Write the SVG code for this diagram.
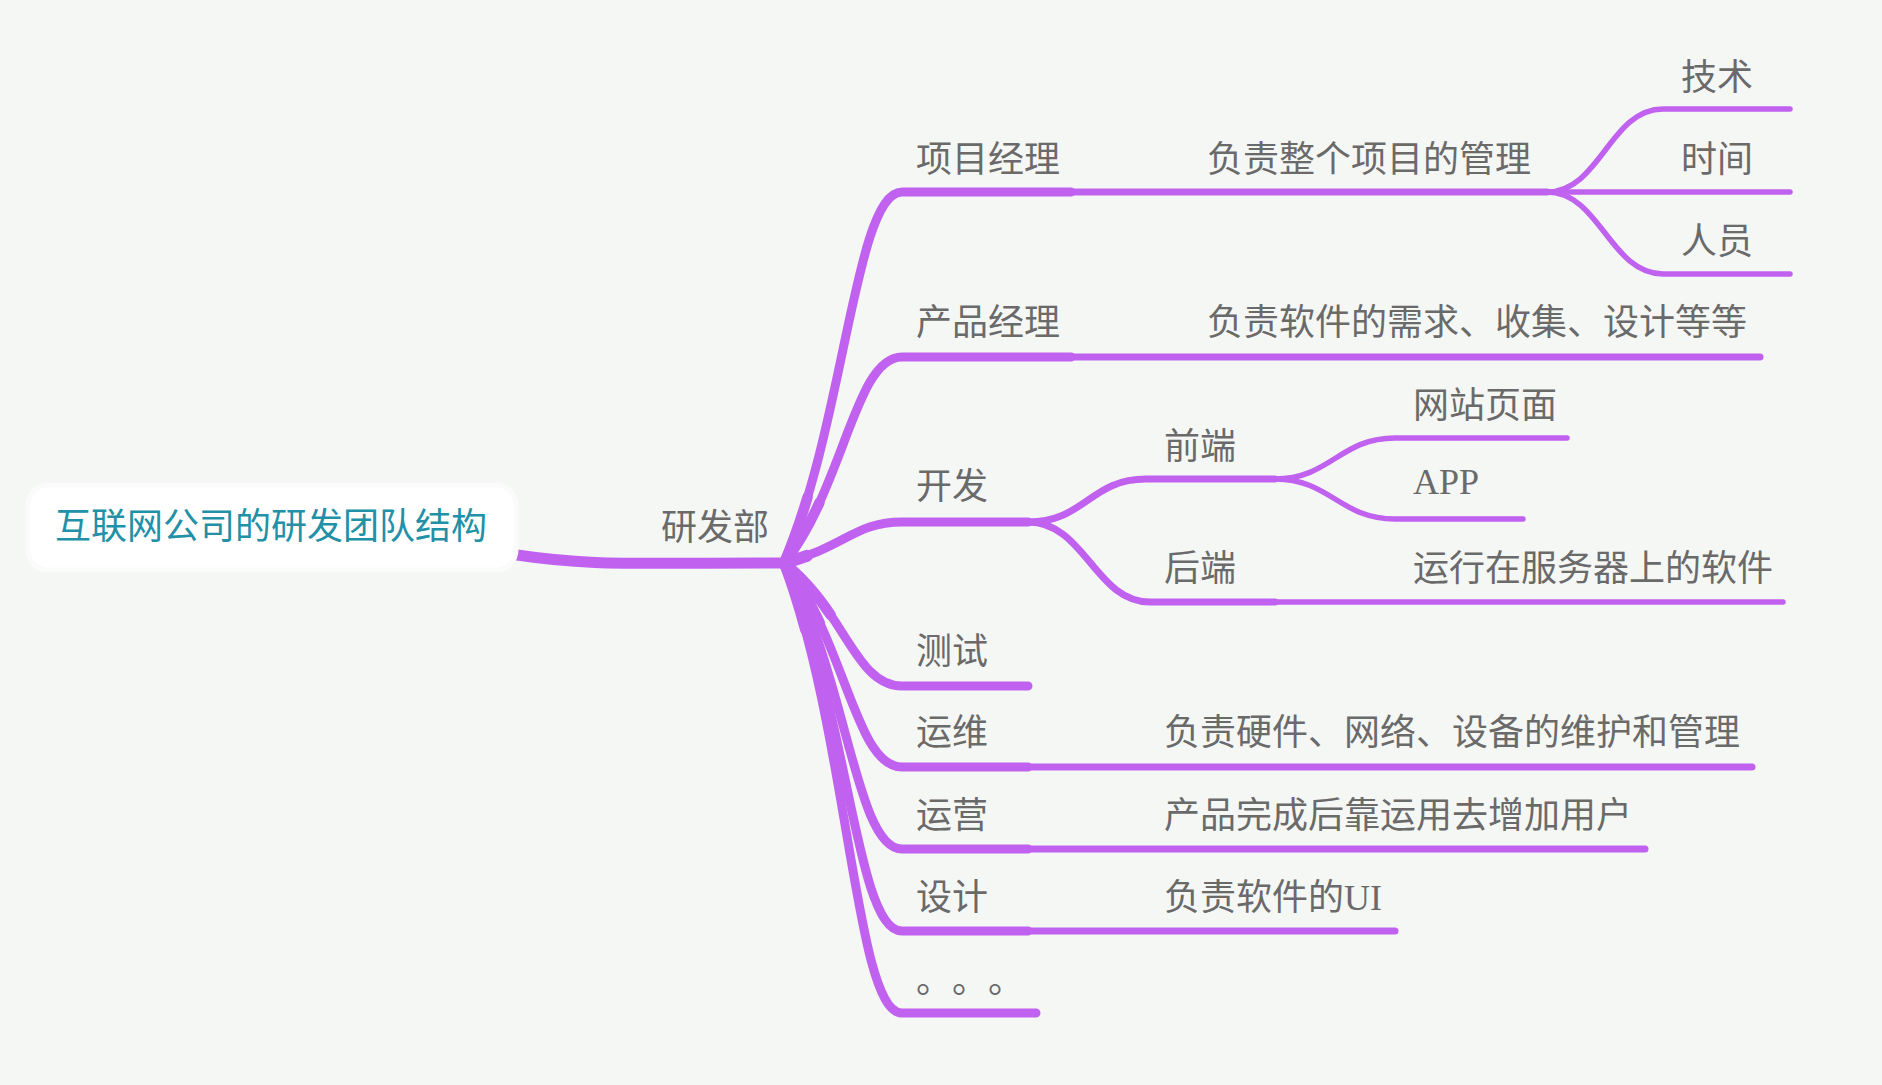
<svg xmlns="http://www.w3.org/2000/svg" width="1882" height="1085" viewBox="0 0 1882 1085">
<style>
.c{fill:none;stroke:#c062ef;stroke-linecap:round;stroke-linejoin:round}
.l1{stroke-width:9}
.l2{stroke-width:7}
.l3{stroke-width:5.5}
.t1{stroke-width:12;stroke-dasharray:24 3000}
.t2{stroke-width:10.5;stroke-dasharray:70 3000}
text{font-family:"Liberation Serif","Noto Sans CJK SC",serif;font-size:36px;fill:#6a6a6a}
.root{fill:#2290a6}
.cjk{font-family:"Noto Sans CJK SC",sans-serif}
</style>
<rect width="1882" height="1085" fill="#f5f7f5"/>
<g id="connectors">
  <path class="c" stroke-width="11" d="M510,554 C 590,566 620,563 786,563"/>
  <g id="level1">
    <path class="c l1" d="M784,563 C 845,422 855,192 902,192 H1071"/>
    <path class="c l1" d="M784,563 C 845,485 855,357 902,357 H1071"/>
    <path class="c l1" d="M784,563 C 845,547 855,522 902,522 H1028"/>
    <path class="c l1" d="M784,563 C 845,610 855,686 902,686 H1028"/>
    <path class="c l1" d="M784,563 C 846,641 855,767 902,767 H1028"/>
    <path class="c l1" d="M784,563 C 847,673 855,849 902,849 H1028"/>
    <path class="c l1" d="M784,563 C 848,704 855,931 902,931 H1028"/>
    <path class="c l1" d="M784,563 C 849,735 855,1013 902,1013 H1036"/>
    <path class="c t2" d="M784,563 C 845,422 855,192 902,192"/>
    <path class="c t2" d="M784,563 C 845,485 855,357 902,357"/>
    <path class="c t2" d="M784,563 C 845,610 855,686 902,686"/>
    <path class="c t2" d="M784,563 C 846,641 855,767 902,767"/>
    <path class="c t2" d="M784,563 C 847,673 855,849 902,849"/>
    <path class="c t2" d="M784,563 C 848,704 855,931 902,931"/>
    <path class="c t2" d="M784,563 C 849,735 855,1013 902,1013"/>
    <path class="c t1" d="M784,563 C 845,547 855,522 902,522"/>
  </g>
  <g id="level2">
    <path class="c l2" d="M1071,192 H1547"/>
    <path class="c l2" d="M1071,357 H1760"/>
    <path class="c l2" d="M1028,522 C 1085,522 1090,479 1146,479 H1275"/>
    <path class="c l2" d="M1028,522 C 1085,522 1095,602 1150,602 H1275"/>
    <path class="c l2" d="M1028,767 H1752"/>
    <path class="c l2" d="M1028,849 H1645"/>
    <path class="c l2" d="M1028,931 H1395"/>
  </g>
  <g id="level3">
    <path class="c l3" d="M1547,192 C 1600,192 1610,109 1663,109 H1790"/>
    <path class="c l3" d="M1547,192 H1790"/>
    <path class="c l3" d="M1547,192 C 1600,192 1610,274 1663,274 H1790"/>
    <path class="c l3" d="M1275,479 C 1330,479 1340,438 1395,438 H1567"/>
    <path class="c l3" d="M1275,479 C 1330,479 1340,519 1395,519 H1523"/>
    <path class="c l3" d="M1275,602 H1783"/>
  </g>
</g>
<g id="root">
  <rect x="28" y="485" width="488" height="85" rx="20" fill="#ffffff" stroke="#fafbfa" stroke-width="5"/>
  <text class="root" x="55" y="539">互联网公司的研发团队结构</text>
</g>
<g id="n-yanfabu"><text x="661" y="540">研发部</text></g>
<g id="n-xmjl"><text x="916" y="172">项目经理</text></g>
<g id="n-xmjl-d"><text x="1207" y="172">负责整个项目的管理</text></g>
<g id="n-jishu"><text x="1681" y="90">技术</text></g>
<g id="n-shijian"><text x="1681" y="172">时间</text></g>
<g id="n-renyuan"><text x="1681" y="254">人员</text></g>
<g id="n-cpjl"><text x="916" y="335">产品经理</text></g>
<g id="n-cpjl-d"><text x="1207" y="335">负责软件的需求、收集、设计等等</text></g>
<g id="n-kaifa"><text x="916" y="499">开发</text></g>
<g id="n-qianduan"><text x="1164" y="459">前端</text></g>
<g id="n-wzym"><text x="1413" y="418">网站页面</text></g>
<g id="n-app"><text x="1413" y="494">APP</text></g>
<g id="n-houduan"><text x="1164" y="581">后端</text></g>
<g id="n-houduan-d"><text x="1413" y="581">运行在服务器上的软件</text></g>
<g id="n-ceshi"><text x="916" y="664">测试</text></g>
<g id="n-yunwei"><text x="916" y="745">运维</text></g>
<g id="n-yunwei-d"><text x="1164" y="745">负责硬件、网络、设备的维护和管理</text></g>
<g id="n-yunying"><text x="916" y="828">运营</text></g>
<g id="n-yunying-d"><text x="1164" y="828">产品完成后靠运用去增加用户</text></g>
<g id="n-sheji"><text x="916" y="910">设计</text></g>
<g id="n-sheji-d"><text x="1164" y="910">负责软件的UI</text></g>
<g id="n-more"><text class="cjk" x="916 952 988" y="993">。。。</text></g>
</svg>
